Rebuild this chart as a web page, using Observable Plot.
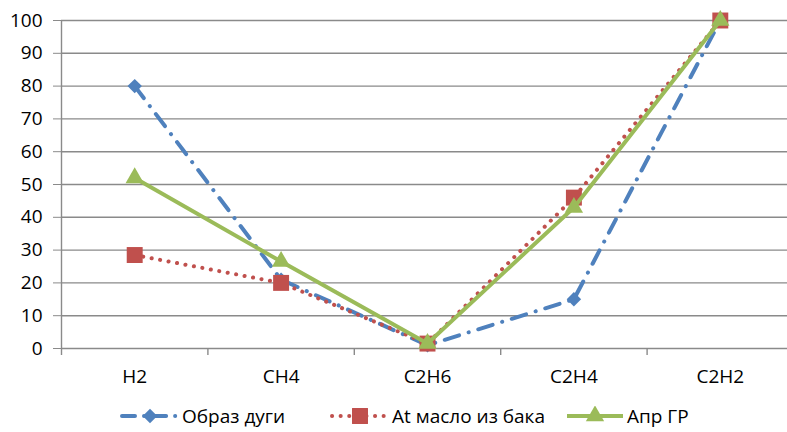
<!DOCTYPE html>
<html>
<head>
<meta charset="utf-8">
<script src="https://cdn.jsdelivr.net/npm/d3@7"></script>
<script src="https://cdn.jsdelivr.net/npm/@observablehq/plot@0.6"></script>
<style>
  body { margin: 0; background: #fff; font-family: "Open Sans", sans-serif; }
  #chart { position: relative; width: 787px; height: 432px; }
  #legend { position: absolute; left: 0; top: 395px; width: 787px; height: 37px; }
  .item { position: absolute; top: 8px; display: flex; align-items: center; font-size: 19px; color: #000; white-space: nowrap; }
  .item svg { margin-right: 2px; }
</style>
</head>
<body>
<div id="chart"><div id="legend"></div></div>
<script>
// Gas categories along the x axis
const gases = ["H2", "CH4", "C2H6", "C2H4", "C2H2"];
// Series values (relative %, normalised to C2H2 = 100)
const arcValues = [80, 21, 1, 15, 100];
const tankOilValues = [28.5, 20, 1.5, 46, 100];
const aprValues = [52, 26.5, 1.5, 43, 100];
const seriesNames = ["Образ дуги", "At масло из бака", "Апр ГР"];
const yTicks = [0, 10, 20, 30, 40, 50, 60, 70, 80, 90, 100];

const colors = ["#4F81BD", "#C0504D", "#9BBB59"];
const dashes = ["15,10,0.1,10", "0.1,8.5", null];
const symbols = ["diamond2", "square", "triangle"];
const radii = [6.5, 9, 6.8];

const series = [arcValues, tankOilValues, aprValues].map((vals, s) =>
  vals.map((v, i) => ({ i, gas: gases[i], value: v, name: seriesNames[s] }))
);

const bounds = d3.range(gases.length + 1).map(k => k - 0.5);

const marks = [
  Plot.gridY(yTicks, { stroke: "#8a8a8a", strokeOpacity: 1, strokeWidth: 1.4 }),
  Plot.axisY(yTicks, { tickSize: 8, tickPadding: 11, stroke: "#8a8a8a", fontSize: 19, label: null, tickFormat: d => d }),
  Plot.ruleX([-0.5], { y1: 0, y2: 100, stroke: "#8a8a8a", strokeWidth: 1.4 }),
  Plot.axisX(bounds, { tickSize: 7, stroke: "#8a8a8a", strokeWidth: 1.4, tickFormat: () => "", label: null }),
  Plot.axisX(d3.range(gases.length), { tickSize: 0, tickPadding: 21, fontSize: 19, tickFormat: i => gases[i], label: null })
];

series.forEach((data, s) => {
  marks.push(Plot.line(data, {
    x: "i", y: "value", stroke: colors[s], strokeWidth: 4,
    strokeDasharray: dashes[s], strokeLinecap: s === 2 ? "butt" : "round", strokeLinejoin: "round"
  }));
  marks.push(Plot.dot(data, {
    x: "i", y: "value", symbol: symbols[s], r: radii[s], fill: colors[s], stroke: "none"
  }));
});

const chart = Plot.plot({
  width: 787,
  height: 395,
  marginTop: 20,
  marginBottom: 47,
  marginLeft: 61,
  marginRight: 0,
  style: { fontFamily: "Open Sans, sans-serif", color: "#000", background: "#fff" },
  x: { type: "linear", domain: [-0.5, gases.length - 0.5], range: [61, 793] },
  y: { domain: [0, 100] },
  marks
});
document.getElementById("chart").prepend(chart);

// Legend below the plot
const legendLeft = [120, 330, 565];
const legend = d3.select("#legend");
seriesNames.forEach((name, s) => {
  const item = legend.append("div").attr("class", "item").style("left", legendLeft[s] + "px");
  const svg = item.append("svg").attr("width", 60).attr("height", 20);
  svg.append("line").attr("x1", 2).attr("x2", 58).attr("y1", 10).attr("y2", 10)
    .attr("stroke", colors[s]).attr("stroke-width", 4)
    .attr("stroke-dasharray", s === 0 ? "13,9,0.1,9" : dashes[s])
    .attr("stroke-linecap", s === 2 ? "butt" : "round");
  svg.append("path").attr("transform", "translate(30,10)")
    .attr("d", d3.symbol(s === 0 ? d3.symbolDiamond2 : s === 1 ? d3.symbolSquare : d3.symbolTriangle, Math.PI * radii[s] * radii[s])())
    .attr("fill", colors[s]);
  item.append("span").text(name);
});
</script>
</body>
</html>
